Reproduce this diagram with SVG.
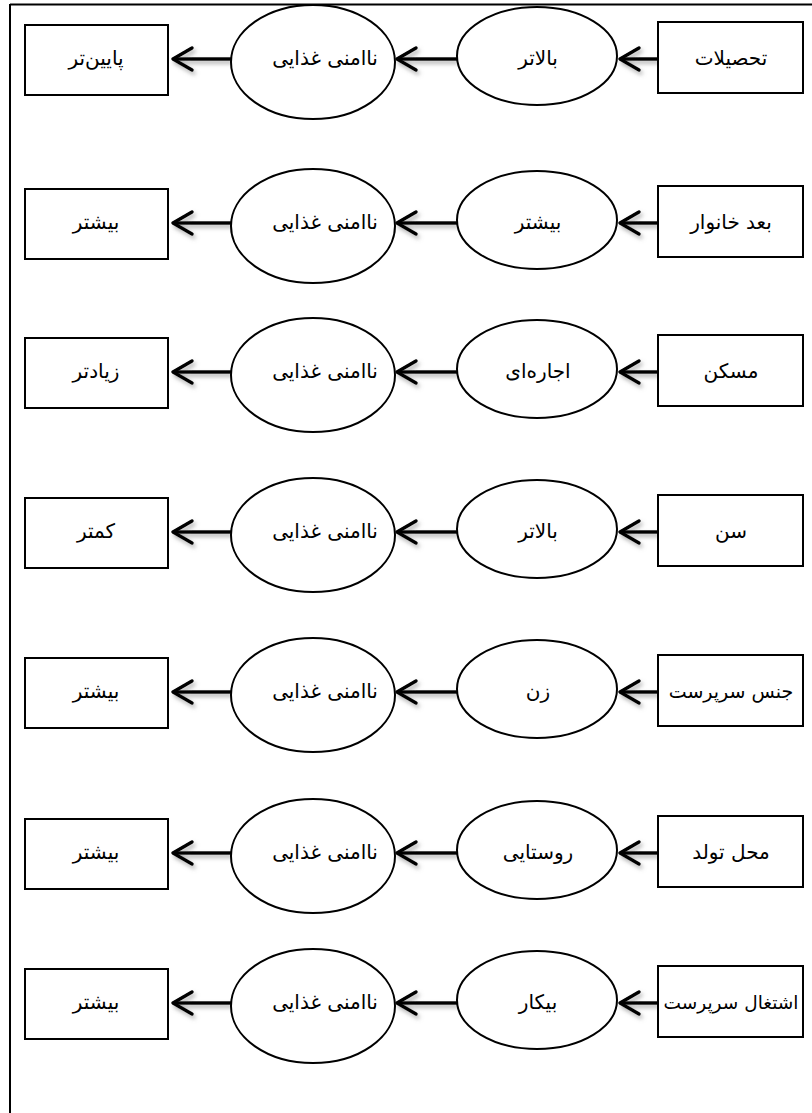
<svg xmlns="http://www.w3.org/2000/svg" width="812" height="1113" viewBox="0 0 812 1113">
<style>
.box{fill:#fff;stroke:#000;stroke-width:2}
.ell{fill:#fff;stroke:#000;stroke-width:2}
.t{font-family:"DejaVu Sans","Noto Sans",sans-serif;font-size:20px;fill:#000;text-anchor:middle;direction:rtl}
.frame{stroke:#000;stroke-width:2;fill:none}
.arr{stroke:#000;stroke-width:3.5;fill:none;marker-end:url(#chev)}
</style>
<defs>
<marker id="chev" markerUnits="userSpaceOnUse" viewBox="-24 -15 28 30" refX="0" refY="0" markerWidth="28" markerHeight="30" orient="auto">
<path d="M-19,-11 L0,0 L-19,11" fill="none" stroke="#000" stroke-width="3.5" stroke-linecap="round" stroke-linejoin="round"/>
</marker>
<filter id="sh" x="-20%" y="-50%" width="140%" height="200%">
<feDropShadow dx="2" dy="3" stdDeviation="2" flood-color="#777" flood-opacity="0.6"/>
</filter>
</defs>
<rect width="812" height="1113" fill="#fff"/>
<g id="frame">
<path class="frame" d="M10,4.5 H812 M10,4 V1113"/>
</g>
<g id="connectors" filter="url(#sh)">
<path class="arr" d="M658,59 H620"/><path class="arr" d="M457,59 H397"/><path class="arr" d="M231,59 H173"/>
<path class="arr" d="M658,223 H620"/><path class="arr" d="M457,223 H397"/><path class="arr" d="M231,223 H173"/>
<path class="arr" d="M658,372 H620"/><path class="arr" d="M457,372 H397"/><path class="arr" d="M231,372 H173"/>
<path class="arr" d="M658,532 H620"/><path class="arr" d="M457,532 H397"/><path class="arr" d="M231,532 H173"/>
<path class="arr" d="M658,692 H620"/><path class="arr" d="M457,692 H397"/><path class="arr" d="M231,692 H173"/>
<path class="arr" d="M658,853 H620"/><path class="arr" d="M457,853 H397"/><path class="arr" d="M231,853 H173"/>
<path class="arr" d="M658,1003 H620"/><path class="arr" d="M457,1003 H397"/><path class="arr" d="M231,1003 H173"/>
</g>
<g id="r1-out"><rect class="box" x="25" y="25" width="143" height="70"/><text class="t" x="96" y="65">پایین‌تر</text></g>
<g id="r1-food"><ellipse class="ell" cx="313" cy="62" rx="82" ry="57"/><text class="t" x="325" y="65">ناامنی غذایی</text></g>
<g id="r1-level"><ellipse class="ell" cx="537" cy="56" rx="80" ry="49"/><text class="t" x="538" y="65">بالاتر</text></g>
<g id="r1-var"><rect class="box" x="658" y="22" width="145" height="71"/><text class="t" x="731" y="65">تحصیلات</text></g>

<g id="r2-out"><rect class="box" x="25" y="189" width="143" height="70"/><text class="t" x="96" y="229">بیشتر</text></g>
<g id="r2-food"><ellipse class="ell" cx="313" cy="226" rx="82" ry="57"/><text class="t" x="325" y="229">ناامنی غذایی</text></g>
<g id="r2-level"><ellipse class="ell" cx="537" cy="220" rx="80" ry="49"/><text class="t" x="538" y="229">بیشتر</text></g>
<g id="r2-var"><rect class="box" x="658" y="186" width="145" height="71"/><text class="t" x="731" y="229">بعد خانوار</text></g>

<g id="r3-out"><rect class="box" x="25" y="338" width="143" height="70"/><text class="t" x="96" y="378">زیادتر</text></g>
<g id="r3-food"><ellipse class="ell" cx="313" cy="375" rx="82" ry="57"/><text class="t" x="325" y="378">ناامنی غذایی</text></g>
<g id="r3-level"><ellipse class="ell" cx="537" cy="369" rx="80" ry="49"/><text class="t" x="538" y="378">اجاره‌ای</text></g>
<g id="r3-var"><rect class="box" x="658" y="335" width="145" height="71"/><text class="t" x="731" y="378">مسکن</text></g>

<g id="r4-out"><rect class="box" x="25" y="498" width="143" height="70"/><text class="t" x="96" y="538">کمتر</text></g>
<g id="r4-food"><ellipse class="ell" cx="313" cy="535" rx="82" ry="57"/><text class="t" x="325" y="538">ناامنی غذایی</text></g>
<g id="r4-level"><ellipse class="ell" cx="537" cy="529" rx="80" ry="49"/><text class="t" x="538" y="538">بالاتر</text></g>
<g id="r4-var"><rect class="box" x="658" y="495" width="145" height="71"/><text class="t" x="731" y="538">سن</text></g>

<g id="r5-out"><rect class="box" x="25" y="658" width="143" height="70"/><text class="t" x="96" y="698">بیشتر</text></g>
<g id="r5-food"><ellipse class="ell" cx="313" cy="695" rx="82" ry="57"/><text class="t" x="325" y="698">ناامنی غذایی</text></g>
<g id="r5-level"><ellipse class="ell" cx="537" cy="689" rx="80" ry="49"/><text class="t" x="538" y="698">زن</text></g>
<g id="r5-var"><rect class="box" x="658" y="655" width="145" height="71"/><text class="t" x="731" y="698" style="font-size:19px">جنس سرپرست</text></g>

<g id="r6-out"><rect class="box" x="25" y="819" width="143" height="70"/><text class="t" x="96" y="859">بیشتر</text></g>
<g id="r6-food"><ellipse class="ell" cx="313" cy="856" rx="82" ry="57"/><text class="t" x="325" y="859">ناامنی غذایی</text></g>
<g id="r6-level"><ellipse class="ell" cx="537" cy="850" rx="80" ry="49"/><text class="t" x="538" y="859">روستایی</text></g>
<g id="r6-var"><rect class="box" x="658" y="816" width="145" height="71"/><text class="t" x="731" y="859">محل تولد</text></g>

<g id="r7-out"><rect class="box" x="25" y="969" width="143" height="70"/><text class="t" x="96" y="1009">بیشتر</text></g>
<g id="r7-food"><ellipse class="ell" cx="313" cy="1006" rx="82" ry="57"/><text class="t" x="325" y="1009">ناامنی غذایی</text></g>
<g id="r7-level"><ellipse class="ell" cx="537" cy="1000" rx="80" ry="49"/><text class="t" x="538" y="1009">بیکار</text></g>
<g id="r7-var"><rect class="box" x="658" y="966" width="145" height="71"/><text class="t" x="731" y="1009" style="font-size:18.5px">اشتغال سرپرست</text></g>
</svg>
